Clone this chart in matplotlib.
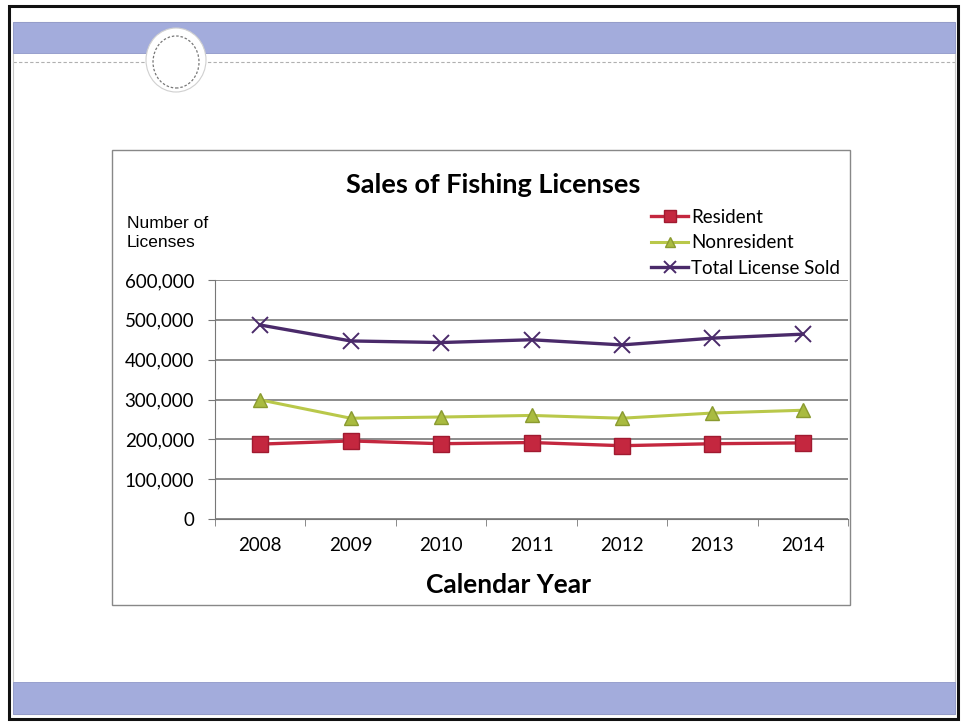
import matplotlib
matplotlib.use("Agg")
import matplotlib.pyplot as plt
from matplotlib.patches import Rectangle, Ellipse
from matplotlib.ticker import FuncFormatter, FixedLocator
from matplotlib.lines import Line2D

years = ["2008", "2009", "2010", "2011", "2012", "2013", "2014"]
resident = [188000, 196000, 189000, 192000, 184000, 189000, 191000]
nonresident = [299000, 253000, 256000, 260000, 253000, 266000, 273000]
total = [487000, 447000, 443000, 450000, 437000, 454000, 464000]
y_ticks = [0, 100000, 200000, 300000, 400000, 500000, 600000]

W, H = 964, 728
fig = plt.figure(figsize=(W / 100, H / 100), dpi=100)
fig.patch.set_facecolor("white")

def fx(x):
    return x / W

def fy(y):
    return 1 - y / H

def rect(x0, y0, x1, y1, **kw):
    fig.patches.append(Rectangle((fx(x0), fy(y1)), fx(x1) - fx(x0), fy(y0) - fy(y1),
                                 transform=fig.transFigure, **kw))

# slide frame
rect(9, 6, 958, 719, facecolor="white", edgecolor="#111111", linewidth=2.2, zorder=0)
rect(13, 22, 955, 714, facecolor="none", edgecolor="#c8c8c8", linewidth=0.8, zorder=1)
# blue bands
rect(13, 22, 955, 53, facecolor="#a3acdc", edgecolor="#8f98c8", linewidth=0.6, zorder=1)
rect(13, 682, 955, 714, facecolor="#a3acdc", edgecolor="#8f98c8", linewidth=0.6, zorder=1)
# dashed line under top band
fig.lines.append(Line2D([fx(13), fx(955)], [fy(62), fy(62)], transform=fig.transFigure,
                        color="#b0b0b0", linewidth=0.8, linestyle=(0, (3, 2)), zorder=1))
# circle ornament
fig.patches.append(Ellipse((fx(176), fy(60)), 60 / W, 64 / H, transform=fig.transFigure,
                           facecolor="white", edgecolor="#d0d0d0", linewidth=0.8, zorder=2))
fig.patches.append(Ellipse((fx(176), fy(62)), 46 / W, 52 / H, transform=fig.transFigure,
                           facecolor="white", edgecolor="#777777", linewidth=0.9,
                           linestyle=(0, (2, 1.5)), zorder=3))
# chart box
rect(112, 150, 850, 605, facecolor="white", edgecolor="#888888", linewidth=1.0, zorder=1)

ax = fig.add_axes([fx(215), fy(519), fx(848) - fx(215), fy(280) - fy(519)])
ax.set_zorder(5)
ax.patch.set_alpha(0)
x = list(range(len(years)))

ax.plot(x, total, color="#4a2a6a", linewidth=2.4, marker="x", markersize=12,
        markeredgewidth=1.4, label="Total License Sold", zorder=4)
ax.plot(x, nonresident, color="#b9c84a", linewidth=2.2, marker="^", markersize=10,
        markerfacecolor="#a9bb40", markeredgecolor="#8a9a30", label="Nonresident", zorder=4)
ax.plot(x, resident, color="#c4273f", linewidth=2.4, marker="s", markersize=12,
        markerfacecolor="#c4273f", markeredgecolor="#a01a30", label="Resident", zorder=4)

ax.set_xlim(-0.5, len(years) - 0.5)
ax.set_ylim(0, 600000)
ax.yaxis.set_major_locator(FixedLocator(y_ticks))
ax.yaxis.set_major_formatter(FuncFormatter(lambda v, p: f"{int(v):,}"))
ax.grid(axis="y", color="#6e6e6e", linewidth=1.1)
ax.set_axisbelow(True)
ax.set_xticks(x)
ax.set_xticklabels(years)
ax.set_xticks([i - 0.5 for i in range(len(years) + 1)], minor=True)
ax.tick_params(axis="x", which="major", length=0, pad=13, labelsize=13.5)
ax.tick_params(axis="x", which="minor", length=5, direction="out", color="#777777")
ax.tick_params(axis="y", length=5, direction="out", color="#777777", labelsize=13.5, pad=10)
for lab in ax.get_xticklabels() + ax.get_yticklabels():
    lab.set_family(["Lato", "DejaVu Sans"])
for s in ["top", "right"]:
    ax.spines[s].set_visible(False)
ax.spines["left"].set_color("#777777")
ax.spines["bottom"].set_color("#777777")

fig.text(fx(493), fy(185), "Sales of Fishing Licenses", ha="center", va="center",
         fontsize=19.5, fontweight="bold", family=["Lato", "DejaVu Sans"], zorder=6)
fig.text(fx(127), fy(233), "Number of\nLicenses", ha="left", va="center",
         fontsize=12.5, family=["Liberation Sans", "DejaVu Sans"], linespacing=1.3, zorder=6)
fig.text(fx(508), fy(585), "Calendar Year", ha="center", va="center",
         fontsize=19, fontweight="bold", family=["Lato", "DejaVu Sans"], zorder=6)

handles, labels = ax.get_legend_handles_labels()
order = [2, 1, 0]
leg = fig.legend([handles[i] for i in order], [labels[i] for i in order],
                 loc="upper left", bbox_to_anchor=(fx(634), fy(192)), frameon=False,
                 handlelength=2.0, handletextpad=0.15, labelspacing=0.45,
                 markerscale=0.75, prop={"family": ["Lato", "DejaVu Sans"], "size": 13.5})
leg.set_zorder(6)

fig.savefig("out.png", dpi=100)
